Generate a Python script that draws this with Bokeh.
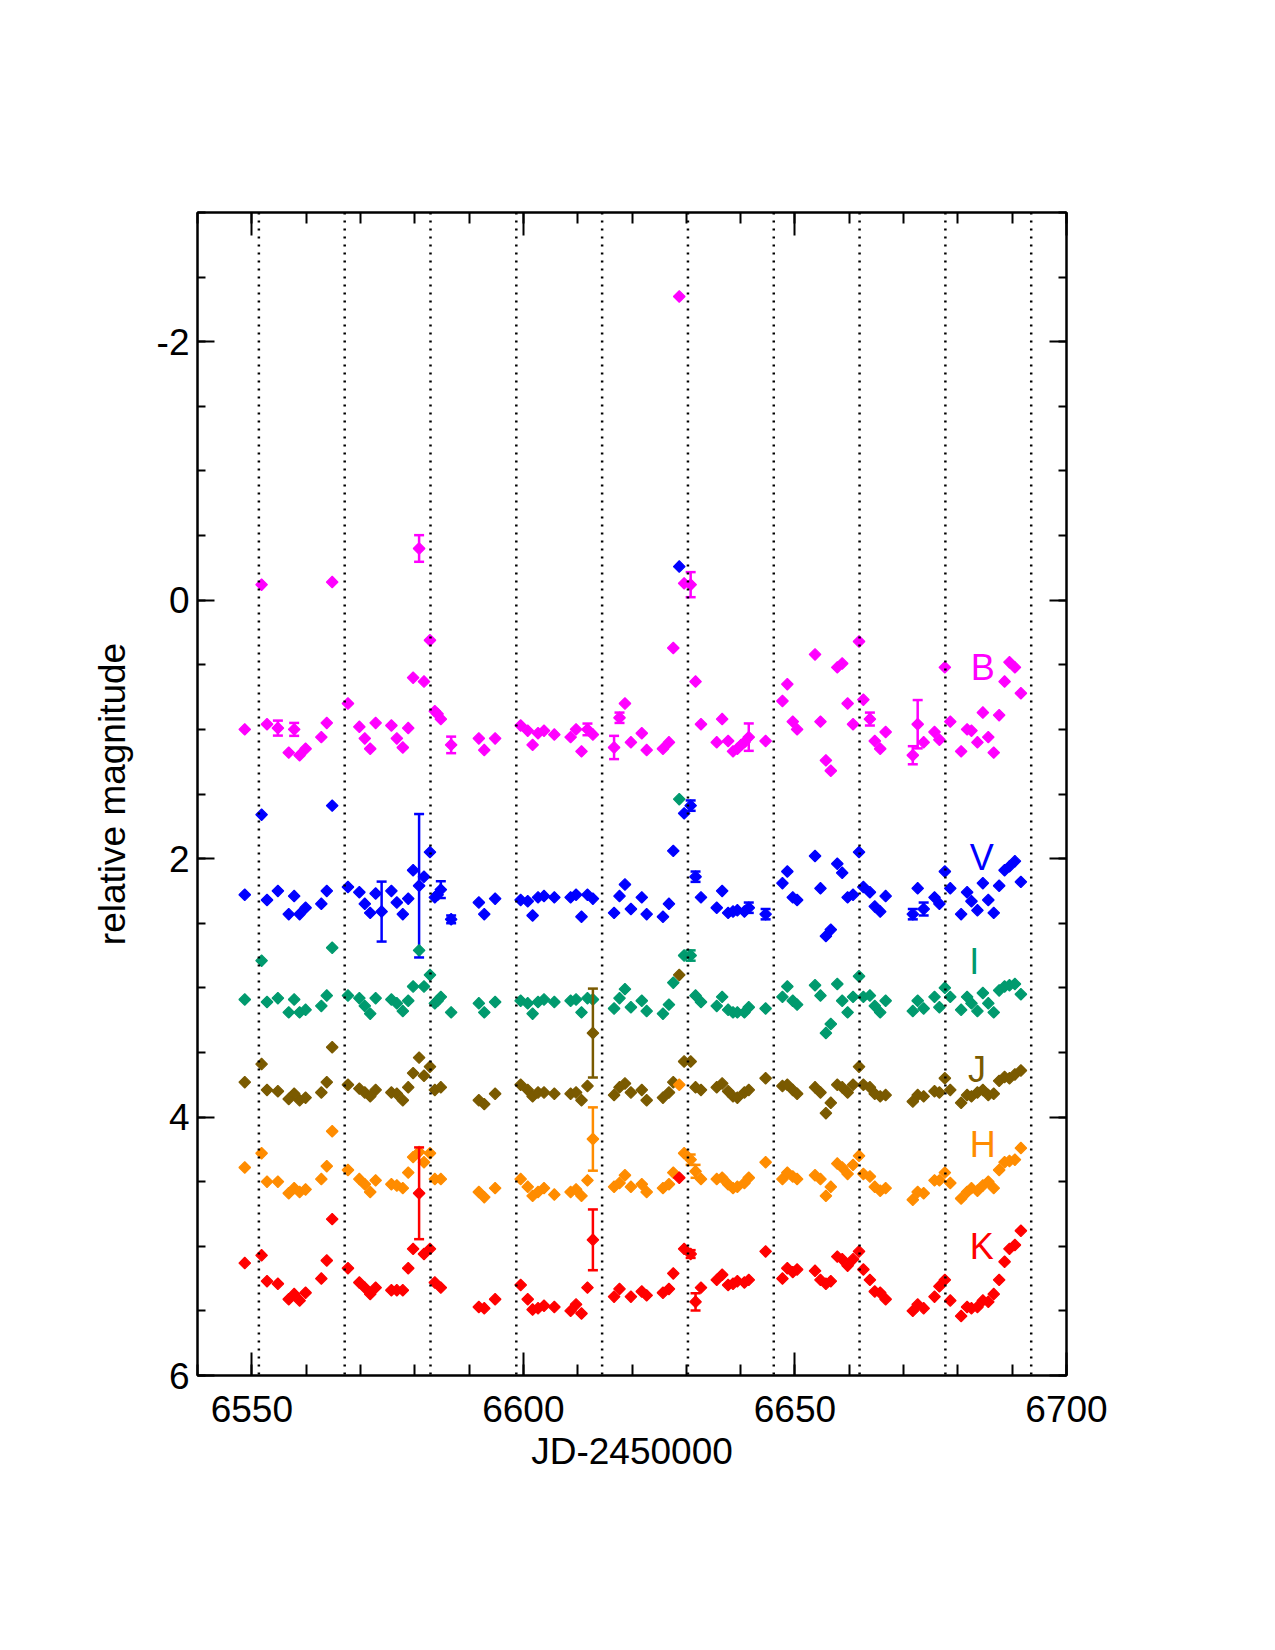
import numpy as np
from bokeh.plotting import figure
from bokeh.models import Range1d, LinearAxis, FixedTicker, Span, Label
from bokeh.embed import file_html
from bokeh.resources import INLINE

nan = float("nan")

# ---------------- data ----------------
days_s1 = [6548.7, 6551.8, 6552.8, 6554.8, 6556.8, 6557.8, 6558.8, 6559.9, 6562.8, 6563.8,
           6564.8, 6567.7, 6569.8, 6570.8, 6571.8, 6572.8, 6573.9, 6575.7, 6576.7, 6577.8,
           6578.8, 6579.7, 6580.8, 6581.7, 6582.8, 6583.7, 6584.2, 6584.8, 6586.7, 6591.8,
           6592.8, 6594.8]
days_s2 = [6599.5, 6600.8, 6601.7, 6602.7, 6603.8, 6605.7, 6608.7, 6609.7, 6610.7, 6611.8,
           6612.8, 6616.7, 6617.7, 6618.7, 6619.8, 6621.8, 6622.7, 6625.7, 6626.8, 6627.6,
           6628.7, 6629.6, 6630.8, 6631.7, 6632.7, 6635.6, 6636.6, 6637.7, 6638.6, 6639.4,
           6640.1, 6640.7, 6641.5, 6644.6]
days_s3 = [6647.7, 6648.6, 6649.6, 6650.4, 6653.7, 6654.7, 6655.7, 6656.6, 6657.8, 6658.7,
           6659.7, 6660.7, 6661.8, 6662.6, 6663.8, 6664.7, 6665.7, 6666.7, 6671.7, 6672.6,
           6673.7, 6675.7, 6676.6, 6677.6, 6678.6, 6680.6, 6681.7, 6682.5, 6683.6, 6684.6,
           6685.6, 6686.6, 6687.6, 6688.6, 6689.5, 6690.5, 6691.6]
days = days_s1 + days_s2 + days_s3

mag_B = [1.00, -0.12, 0.96, 0.99, 1.18, 1.00, 1.20, 1.15, 1.06, 0.95,
         -0.14, 0.80, 0.98, 1.07, 1.15, 0.95, nan, 0.97, 1.07, 1.14,
         0.99, 0.60, -0.40, 0.63, 0.31, 0.86, 0.88, 0.92, 1.12, 1.07,
         1.16, 1.07,
         0.97, 1.01, 1.12, 1.03, 1.01, 1.04, 1.06, 1.00, 1.17, 1.00,
         1.04, 1.14, 0.91, 0.80, 1.10, 1.03, 1.16, 1.15, 1.10, 0.37,
         -2.35, -0.13, -0.12, 0.63, 0.96, 1.10, 0.92, 1.09, 1.17, 1.15,
         1.12, 1.10, 1.06, 1.09,
         0.78, 0.65, 0.94, 1.00, 0.42, 0.94, 1.24, 1.32, 0.52, 0.49,
         0.80, 0.96, 0.32, 0.77, 0.92, 1.09, 1.15, 1.02, 1.20, 0.96,
         1.10, 1.02, 1.08, 0.52, 0.94, 1.17, 1.00, 1.01, 1.10, 0.87,
         1.06, 1.18, 0.89, 0.63, 0.48, 0.52, 0.72]
mag_V = [2.28, 1.66, 2.32, 2.25, 2.43, 2.29, 2.43, 2.38, 2.35, 2.25,
         1.59, 2.22, 2.26, 2.35, 2.42, 2.27, 2.41, 2.25, 2.34, 2.43,
         2.31, 2.09, 2.21, 2.14, 1.95, 2.30, 2.28, 2.24, 2.47, 2.34,
         2.43, 2.31,
         2.32, 2.33, 2.44, 2.30, 2.29, 2.30, 2.30, 2.28, 2.45, 2.28,
         2.31, 2.42, 2.29, 2.20, 2.39, 2.30, 2.43, 2.45, 2.35, 1.94,
         -0.26, 1.65, 1.59, 2.14, 2.30, 2.38, 2.25, 2.42, 2.41, 2.40,
         nan, 2.41, 2.38, 2.43,
         2.19, 2.10, 2.30, 2.32, 1.98, 2.23, 2.60, 2.55, 2.04, 2.11,
         2.30, 2.28, 1.95, 2.22, 2.26, 2.37, 2.41, 2.29, 2.43, 2.23,
         2.39, 2.30, 2.35, 2.10, 2.23, 2.43, 2.26, 2.33, 2.40, 2.19,
         2.32, 2.42, 2.21, 2.09, 2.06, 2.02, 2.18]
mag_I = [3.09, 2.79, 3.11, 3.08, 3.19, 3.09, 3.19, 3.17, 3.14, 3.06,
         2.69, 3.06, 3.08, 3.14, 3.20, 3.08, nan, 3.09, 3.12, 3.18,
         3.10, 2.99, 2.71, 2.99, 2.90, 3.12, 3.10, 3.07, 3.19, 3.12,
         3.19, 3.11,
         3.10, 3.12, 3.20, 3.11, 3.09, 3.11, 3.10, 3.09, 3.19, 3.08,
         3.09, 3.16, 3.08, 3.01, 3.15, 3.10, 3.18, 3.20, 3.13, 2.96,
         1.54, 2.75, 2.75, 3.06, 3.11, 3.14, 3.07, 3.17, 3.19, 3.19,
         nan, 3.19, 3.15, 3.16,
         3.07, 2.99, 3.10, 3.13, 2.98, 3.06, 3.35, 3.28, 2.97, 3.10,
         3.19, 3.07, 2.91, 3.07, 3.06, 3.14, 3.19, 3.10, 3.18, 3.10,
         3.16, 3.07, 3.15, 3.00, 3.07, 3.17, 3.07, 3.12, 3.18, 3.04,
         3.12, 3.19, 3.02, 2.99, 2.98, 2.97, 3.05]
mag_J = [3.73, 3.59, 3.79, 3.80, 3.86, 3.82, 3.87, 3.85, 3.81, 3.73,
         3.46, 3.75, 3.78, 3.81, 3.84, 3.79, nan, 3.81, 3.82, 3.87,
         3.77, 3.66, 3.54, 3.68, 3.61, 3.79, nan, 3.77, nan, 3.87,
         3.90, 3.82,
         3.75, 3.79, 3.84, 3.81, 3.81, 3.82, 3.82, 3.81, 3.87, 3.76,
         3.35, 3.83, 3.77, 3.74, 3.81, 3.79, 3.87, 3.85, 3.81, 3.73,
         2.90, 3.57, 3.57, 3.77, 3.79, 3.77, 3.74, 3.80, 3.84, 3.85,
         nan, 3.81, 3.79, 3.70,
         3.76, 3.75, 3.79, 3.82, 3.77, 3.81, 3.97, 3.89, 3.75, 3.77,
         3.81, 3.75, 3.61, 3.75, 3.77, 3.82, 3.84, 3.83, 3.88, 3.83,
         3.84, 3.80, 3.81, 3.70, 3.79, 3.89, 3.83, 3.84, 3.81, 3.79,
         3.83, 3.82, 3.72, 3.69, 3.70, 3.67, 3.64]
mag_H = [4.39, 4.28, 4.50, 4.50, 4.59, 4.55, 4.58, 4.56, 4.48, 4.38,
         4.11, 4.41, 4.48, 4.52, 4.58, 4.49, nan, 4.52, 4.53, 4.55,
         4.43, 4.31, 4.27, 4.35, 4.28, 4.48, nan, 4.48, nan, 4.58,
         4.62, 4.55,
         4.48, 4.54, 4.61, 4.58, 4.55, 4.60, 4.58, 4.56, 4.61, 4.49,
         4.17, 4.54, 4.51, 4.45, 4.54, 4.52, 4.58, 4.55, 4.52, 4.43,
         3.75, 4.28, 4.33, 4.42, 4.48, 4.48, 4.47, 4.52, 4.55, 4.54,
         nan, 4.51, 4.47, 4.35,
         4.48, 4.43, 4.46, 4.48, 4.45, 4.48, 4.61, 4.54, 4.36, 4.39,
         4.44, 4.37, 4.30, 4.44, 4.46, 4.54, 4.57, 4.55, 4.64, 4.58,
         4.59, 4.49, 4.49, 4.43, 4.51, 4.63, 4.58, 4.55, 4.57, 4.53,
         4.50, 4.55, 4.41, 4.35, 4.34, 4.33, 4.24]
mag_K = [5.13, 5.07, 5.27, 5.29, 5.41, 5.37, 5.42, 5.36, 5.25, 5.11,
         4.79, 5.17, 5.28, 5.32, 5.37, 5.32, nan, 5.34, 5.34, 5.34,
         5.17, 5.02, 4.59, 5.06, 5.02, 5.28, nan, 5.32, nan, 5.47,
         5.48, 5.41,
         5.30, 5.41, 5.49, 5.48, 5.46, 5.47, 5.50, 5.45, 5.52, 5.32,
         4.95, 5.39, 5.33, nan, 5.39, 5.35, 5.38, 5.36, 5.33, 5.21,
         4.47, 5.02, 5.06, 5.43, 5.32, 5.26, 5.22, 5.30, 5.29, 5.27,
         nan, 5.28, 5.26, 5.04,
         5.25, 5.17, 5.20, 5.18, 5.19, 5.26, 5.29, 5.27, 5.08, 5.10,
         5.15, 5.10, 5.04, 5.18, 5.26, 5.35, 5.36, 5.41, 5.50, 5.45,
         5.48, 5.39, 5.31, 5.26, 5.42, 5.54, 5.47, 5.48, 5.47, 5.42,
         5.43, 5.37, 5.26, 5.12, 5.02, 4.99, 4.88]

# error bars (day, magnitude, error)
err_B = [(6554.8, 0.99, 0.058), (6557.8, 1.00, 0.05), (6580.8, -0.40, 0.103),
         (6586.7, 1.12, 0.064), (6611.8, 1.00, 0.045), (6616.7, 1.14, 0.09),
         (6617.7, 0.91, 0.04), (6630.8, -0.12, 0.097), (6641.5, 1.06, 0.106),
         (6663.8, 0.92, 0.05), (6671.7, 1.20, 0.07), (6672.6, 0.96, 0.187)]
err_V = [(6573.9, 2.41, 0.232), (6580.8, 2.21, 0.555), (6584.8, 2.24, 0.065),
         (6586.7, 2.47, 0.03), (6631.7, 2.14, 0.04), (6644.6, 2.43, 0.04),
         (6671.7, 2.43, 0.04), (6673.7, 2.39, 0.05), (6641.5, 2.38, 0.04),
         (6630.8, 1.59, 0.04)]
err_I = [(6630.8, 2.75, 0.04)]
err_J = [(6612.8, 3.35, 0.344)]
err_H = [(6612.8, 4.17, 0.245), (6631.7, 4.42, 0.05), (6630.8, 4.33, 0.04)]
err_K = [(6580.8, 4.59, 0.355), (6612.8, 4.95, 0.235), (6631.7, 5.43, 0.067),
         (6630.8, 5.06, 0.03)]

bands = ["B", "V", "I", "J", "H", "K"]
band_colors = ["#FF00FF", "#0000FF", "#009A6E", "#7A5A00", "#FF8C00", "#FF0000"]
band_mags = [mag_B, mag_V, mag_I, mag_J, mag_H, mag_K]
band_errs = [err_B, err_V, err_I, err_J, err_H, err_K]
label_pos = [(6684.6, 0.52), (6684.4, 1.99), (6683.0, 2.80),
             (6683.5, 3.63), (6684.6, 4.21), (6684.4, 5.00)]

phase_lines = [6551.3, 6567.1, 6582.9, 6598.7, 6614.5, 6630.3, 6646.1, 6661.9, 6677.7, 6693.5]

x_major = [6550, 6600, 6650, 6700]
x_minor = list(range(6540, 6701, 10))
y_major = [-2, 0, 2, 4, 6]
y_minor = [v / 2 for v in range(-6, 13)]

# ---------------- figure ----------------
FONT = "Liberation Sans"
p = figure(frame_width=869, frame_height=1163,
           min_border_left=197, min_border_right=209,
           min_border_top=212, min_border_bottom=275,
           x_range=Range1d(6540, 6700), y_range=Range1d(6, -3),
           x_axis_type=None, y_axis_type=None,
           output_backend="svg", toolbar_location=None)
p.grid.visible = False
p.outline_line_color = "black"
p.outline_line_width = 2
p.background_fill_color = "white"
p.border_fill_color = "white"


def make_axis(ticks, minor, tick_in, minor_in, labels=True, title=None):
    ax = LinearAxis(ticker=FixedTicker(ticks=ticks, minor_ticks=minor))
    ax.axis_line_width = 2
    ax.axis_line_color = "black"
    ax.major_tick_in = tick_in
    ax.major_tick_out = 0
    ax.minor_tick_in = minor_in
    ax.minor_tick_out = 0
    ax.major_tick_line_width = 2
    ax.minor_tick_line_width = 2
    ax.major_label_text_font = FONT
    ax.major_label_text_font_size = "37px"
    ax.major_label_text_color = "black"
    if labels:
        ax.major_label_overrides = {t: str(t) for t in ticks}
    else:
        ax.major_label_overrides = {t: "" for t in ticks}
    if title:
        ax.axis_label = title
        ax.axis_label_text_font = FONT
        ax.axis_label_text_font_size = "37px"
        ax.axis_label_text_font_style = "normal"
        ax.axis_label_text_color = "black"
    return ax


xb = make_axis(x_major, x_minor, 23, 11, True, "JD-2450000")
xb.major_label_standoff = 20
xb.axis_label_standoff = 6
p.add_layout(xb, "below")
xt = make_axis(x_major, x_minor, 23, 11, False)
p.add_layout(xt, "above")

yl = make_axis(y_major, y_minor, 17, 8, True, "relative magnitude")
yl.major_label_standoff = 8
yl.axis_label_standoff = 21
p.add_layout(yl, "left")
yr = make_axis(y_major, y_minor, 17, 8, False)
p.add_layout(yr, "right")

for d in phase_lines:
    p.add_layout(Span(location=d, dimension="height", line_color="black",
                      line_width=2.5, line_dash="2 6"))

for name, col, mags, errs, (lx, ly) in zip(bands, band_colors, band_mags, band_errs, label_pos):
    if errs:
        ed = [e[0] for e in errs]
        em = [e[1] for e in errs]
        ee = [e[2] for e in errs]
        lo = [m - e for m, e in zip(em, ee)]
        hi = [m + e for m, e in zip(em, ee)]
        p.segment(x0=ed, y0=lo, x1=ed, y1=hi, line_color=col, line_width=2.5)
        p.scatter(x=ed + ed, y=lo + hi, marker="dash", size=10, line_color=col, line_width=2.5)
    p.scatter(x=days, y=mags, marker="square", angle=np.pi / 4, size=8.2,
              fill_color=col, line_color=col, line_width=1.2)
    p.add_layout(Label(x=lx, y=ly, text=name, text_color=col, text_font=FONT,
                       text_font_size="36px", text_align="center", text_baseline="middle"))

open("out.html", "w").write(file_html(p, INLINE))
